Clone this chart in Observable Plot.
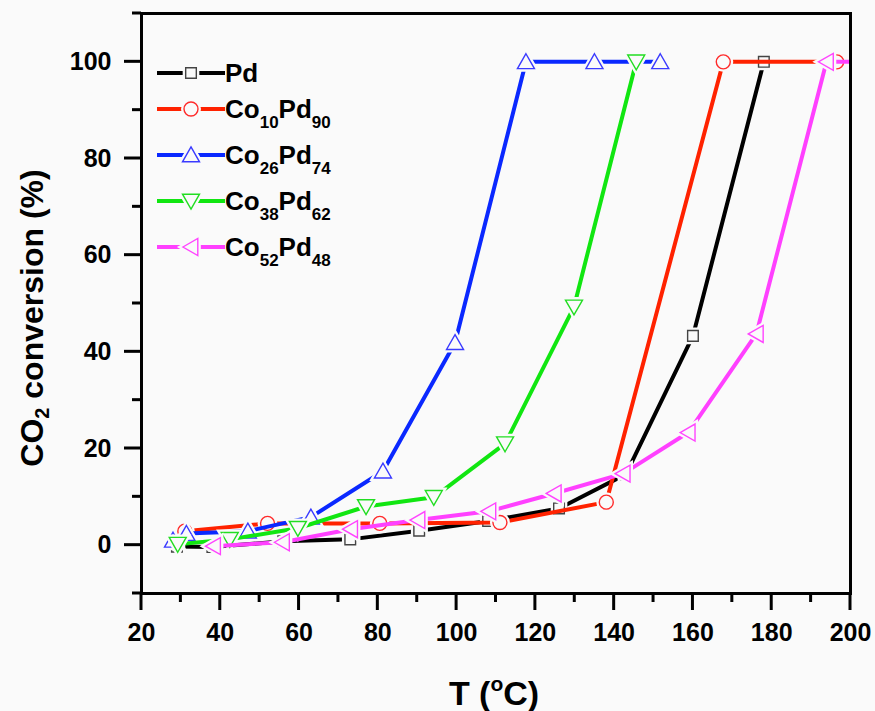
<!DOCTYPE html>
<html>
<head>
<meta charset="utf-8">
<script src="https://cdn.jsdelivr.net/npm/d3@7"></script>
<script src="https://cdn.jsdelivr.net/npm/@observablehq/plot@0.6"></script>
<style>
  html, body { margin: 0; padding: 0; background: #fafafa; }
  #chart svg { display: block; }
</style>
</head>
<body>
<div id="chart"></div>
<script>
// ---- data ----
const seriesNames = ["Pd", "Co10Pd90", "Co26Pd74", "Co38Pd62", "Co52Pd48"];
const legendParts = [
  [["Pd", 0]],
  [["Co", 0], ["10", 1], ["Pd", 0], ["90", 1]],
  [["Co", 0], ["26", 1], ["Pd", 0], ["74", 1]],
  [["Co", 0], ["38", 1], ["Pd", 0], ["62", 1]],
  [["Co", 0], ["52", 1], ["Pd", 0], ["48", 1]]
];
const pdT = [29, 38, 56, 73, 90.5, 108, 126, 143, 160, 178];
const pdV = [-0.3, -0.4, 0.8, 1.2, 3.0, 5.0, 7.6, 14.7, 43.3, 100];
const co10T = [31, 52, 80.5, 111, 138, 167.7, 196.5];
const co10V = [2.9, 4.5, 4.5, 4.7, 8.9, 100, 100];
const co26T = [28, 31.4, 47, 63, 81.3, 99.6, 117.6, 135, 151.7];
const co26V = [1.0, 2.4, 2.9, 5.8, 15.3, 41.9, 100, 100, 100];
const co38T = [29.2, 42.4, 59.7, 77, 94.2, 112.3, 129.8, 145.6];
const co38V = [0.2, 1.2, 3.5, 8.0, 9.9, 21.0, 49.3, 100];
const co52T = [38.3, 55.8, 73.1, 90.2, 108.2, 124.8, 142.3, 158.8, 176.1, 193.9, 212];
const co52V = [-0.2, 0.6, 3.3, 5.2, 7.0, 10.7, 14.8, 23.3, 43.7, 100, 100];
const xTicks = [20, 40, 60, 80, 100, 120, 140, 160, 180, 200];
const xMinor = [30, 50, 70, 90, 110, 130, 150, 170, 190];
const yTicks = [0, 20, 40, 60, 80, 100];
const yMinor = [-10, 10, 30, 50, 70, 90, 110];

// ---- styles ----
const bg = "#fafafa";
const lineColors = ["#000000", "#ff2200", "#0a28ff", "#11e611", "#ff40ff"];
const markColors = ["#444444", "#ff2a2a", "#3a3aff", "#22dd22", "#ff44ff"];
const radii = [6, 7, 8.5, 8.5, 8.5];
const rOf = s => Math.sqrt(s / Math.PI);
const triUp = {draw(c, s) { const r = rOf(s); c.moveTo(0, -0.95 * r); c.lineTo(r, 0.8 * r); c.lineTo(-r, 0.8 * r); c.closePath(); }};
const triDown = {draw(c, s) { const r = rOf(s); c.moveTo(0, 0.95 * r); c.lineTo(r, -0.8 * r); c.lineTo(-r, -0.8 * r); c.closePath(); }};
const triLeft = {draw(c, s) { const r = rOf(s); c.moveTo(-0.95 * r, 0); c.lineTo(0.8 * r, -r); c.lineTo(0.8 * r, r); c.closePath(); }};
const symbols = [d3.symbolSquare, d3.symbolCircle, triUp, triDown, triLeft];

const tArrays = [pdT, co10T, co26T, co38T, co52T];
const vArrays = [pdV, co10V, co26V, co38V, co52V];
const tables = seriesNames.map((name, i) => tArrays[i].map((t, j) => ({series: name, T: t, v: vArrays[i][j]})));

const font = "'Liberation Sans', Arial, sans-serif";
const seriesMarks = tables.flatMap((rows, i) => [
  Plot.line(rows, {x: "T", y: "v", stroke: lineColors[i], strokeWidth: 4, clip: true}),
  Plot.dot(rows, {x: "T", y: "v", symbol: symbols[i], r: radii[i], fill: bg, stroke: bg, strokeWidth: 6, clip: true}),
  Plot.dot(rows, {x: "T", y: "v", symbol: symbols[i], r: radii[i], fill: "none", stroke: markColors[i], strokeWidth: 1.4, clip: true})
]);

const chart = Plot.plot({
  width: 875,
  height: 711,
  marginLeft: 141,
  marginRight: 25,
  marginTop: 13,
  marginBottom: 118,
  style: {background: bg, fontFamily: font, fontWeight: "bold", color: "black"},
  x: {domain: [20, 200], label: null},
  y: {domain: [-10, 110], label: null},
  marks: [
    ...seriesMarks,
    Plot.axisX(xTicks, {tickSize: 0, tickPadding: 30, fontSize: 25, fontWeight: "bold", tickFormat: d => String(d)}),
    Plot.axisY(yTicks, {tickSize: 0, tickPadding: 30, fontSize: 25, fontWeight: "bold", tickFormat: d => String(d)}),
    Plot.frame({stroke: "black", strokeWidth: 3})
  ]
});
document.getElementById("chart").appendChild(chart);

// ---- tick marks, positioned by Plot's own scales ----
const svg = d3.select(chart);
const sx = chart.scale("x"), sy = chart.scale("y");
const [y0px] = [sy.apply(sy.domain[0])];
const x0px = sx.apply(sx.domain[0]);
const tg = svg.append("g").attr("stroke", "black").attr("stroke-width", 3).attr("stroke-linecap", "butt");
[[xTicks, 17], [xMinor, 9]].forEach(([vals, len]) => vals.forEach(v => {
  const px = sx.apply(v);
  tg.append("line").attr("x1", px).attr("x2", px).attr("y1", y0px).attr("y2", y0px + len);
}));
[[yTicks, 17], [yMinor, 9]].forEach(([vals, len]) => vals.forEach(v => {
  const py = sy.apply(v);
  tg.append("line").attr("x1", x0px - len).attr("x2", x0px).attr("y1", py).attr("y2", py);
}));

// ---- titles ----
const yt = svg.append("text")
  .attr("transform", "translate(43,318) rotate(-90)")
  .attr("text-anchor", "middle")
  .style("font-family", font).style("font-weight", "bold").style("font-size", "32px")
  .attr("fill", "black");
yt.append("tspan").text("CO");
yt.append("tspan").text("2").style("font-size", "20px").attr("dy", 6);
yt.append("tspan").text(" conversion (%)").attr("dy", -6);

const xt = svg.append("text")
  .attr("transform", "translate(494,705)")
  .attr("text-anchor", "middle")
  .style("font-family", font).style("font-weight", "bold").style("font-size", "34px")
  .attr("fill", "black");
xt.append("tspan").text("T (");
xt.append("tspan").text("o").style("font-size", "21px").attr("dy", -14);
xt.append("tspan").text("C)").attr("dy", 14);

// ---- legend ----
const lg = svg.append("g");
let rowY = 73;
legendParts.forEach((parts, i) => {
  const hasSub = parts.some(p => p[1]);
  if (i > 0) rowY += hasSub ? 46 : 36;
  if (i === 1) rowY -= 10;
  const g = lg.append("g").attr("transform", `translate(0,${rowY})`);
  g.append("line").attr("x1", 157).attr("x2", 225).attr("y1", 0).attr("y2", 0)
    .attr("stroke", lineColors[i]).attr("stroke-width", 4);
  const sym = d3.symbol().type(symbols[i]).size(Math.PI * radii[i] * radii[i]);
  g.append("path").attr("d", sym()).attr("transform", "translate(191,0)")
    .attr("fill", bg).attr("stroke", bg).attr("stroke-width", 6);
  g.append("path").attr("d", sym()).attr("transform", "translate(191,0)")
    .attr("fill", "none").attr("stroke", markColors[i]).attr("stroke-width", 1.4);
  const t = g.append("text").attr("x", 225).attr("y", 9)
    .attr("text-anchor", "start")
    .style("font-family", font).style("font-weight", "bold").style("font-size", "26px").attr("fill", "black");
  let prevSub = 0;
  parts.forEach(([s, sub]) => {
    const ts = t.append("tspan").text(s);
    if (sub) ts.style("font-size", "17px");
    const dy = (sub ? 10 : 0) - (prevSub ? 10 : 0);
    if (dy) ts.attr("dy", dy);
    prevSub = sub;
  });
});
</script>
</body>
</html>
